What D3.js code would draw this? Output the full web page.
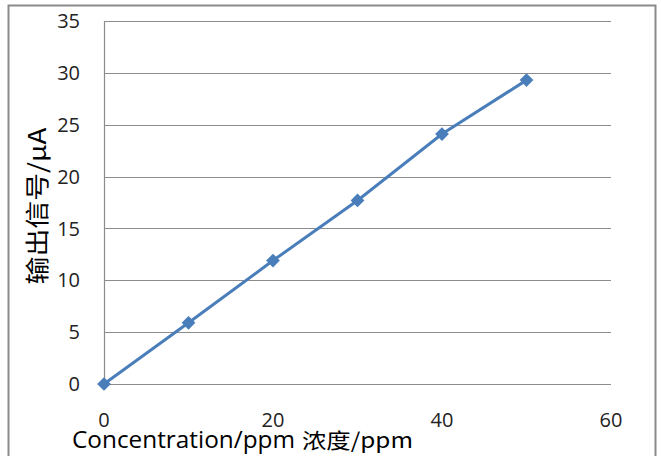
<!DOCTYPE html>
<html>
<head>
<meta charset="utf-8">
<script src="https://cdn.jsdelivr.net/npm/d3@7"></script>
<style>
  body { margin: 0; background: #fff; }
  svg { display: block; }
</style>
</head>
<body>
<div id="chart"></div>
<script>
// Data
const concentration = [0, 10, 20, 30, 40, 50];
const signal = [0, 5.9, 11.9, 17.7, 24.1, 29.3];
const xTicks = [0, 20, 40, 60];
const yTicks = [0, 5, 10, 15, 20, 25, 30, 35];

const width = 661, height = 456;
const margin = { left: 104, right: 50, top: 21, bottom: 72 };

const svg = d3.select("#chart").append("svg")
    .attr("width", width)
    .attr("height", height);

// Outer chart border (runs past the bottom edge)
svg.append("rect")
    .attr("x", 8.5).attr("y", 5.5)
    .attr("width", 647).attr("height", 470)
    .attr("fill", "none")
    .attr("stroke", "#8a8a8a")
    .attr("stroke-width", 2);

const x = d3.scaleLinear().domain([0, 60]).range([margin.left, width - margin.right]);
const y = d3.scaleLinear().domain([0, 35]).range([height - margin.bottom, margin.top]);

// Horizontal gridlines
svg.append("g")
    .selectAll("line")
    .data(yTicks)
    .enter()
    .append("line")
    .attr("x1", x(0)).attr("x2", x(60))
    .attr("y1", d => Math.round(y(d)) + 0.5)
    .attr("y2", d => Math.round(y(d)) + 0.5)
    .attr("stroke", "#8c8c8c")
    .attr("stroke-width", 1.2);

// Left axis line
svg.append("line")
    .attr("x1", x(0) + 0.5).attr("x2", x(0) + 0.5)
    .attr("y1", y(35)).attr("y2", y(0))
    .attr("stroke", "#8c8c8c")
    .attr("stroke-width", 1.2);

const font = "'Open Sans', 'Noto Sans', sans-serif";

// Y tick labels
svg.append("g")
    .selectAll("text")
    .data(yTicks)
    .enter()
    .append("text")
    .attr("x", 80)
    .attr("y", d => y(d))
    .attr("dy", "0.36em")
    .attr("text-anchor", "end")
    .attr("font-family", font)
    .attr("font-size", 20)
    .attr("fill", "#222")
    .text(d => d);

// X tick labels
svg.append("g")
    .selectAll("text")
    .data(xTicks)
    .enter()
    .append("text")
    .attr("x", d => x(d))
    .attr("y", 427)
    .attr("text-anchor", "middle")
    .attr("font-family", font)
    .attr("font-size", 20)
    .attr("fill", "#222")
    .text(d => d);

// Axis titles
const xTitle = svg.append("text")
    .attr("y", 448)
    .attr("font-family", font)
    .attr("fill", "#000");
xTitle.append("tspan")
    .attr("x", 72)
    .attr("font-size", 23)
    .attr("textLength", 223)
    .attr("lengthAdjust", "spacingAndGlyphs")
    .text("Concentration/ppm");
xTitle.append("tspan")
    .attr("x", 302)
    .attr("font-size", 21)
    .attr("font-family", "'Noto Sans CJK SC', sans-serif")
    .attr("textLength", 111)
    .attr("lengthAdjust", "spacingAndGlyphs")
    .text("浓度/ppm");

svg.append("text")
    .attr("transform", "translate(46,206) rotate(-90)")
    .attr("text-anchor", "middle")
    .attr("font-family", "'Noto Sans CJK SC', sans-serif")
    .attr("font-size", 24)
    .attr("fill", "#000")
    .attr("textLength", 157)
    .attr("lengthAdjust", "spacingAndGlyphs")
    .text("输出信号/μA");

// Series line and markers
const points = concentration.map((c, i) => ({ c: c, s: signal[i] }));
const color = "#4a7ebb";

svg.append("path")
    .datum(points)
    .attr("fill", "none")
    .attr("stroke", color)
    .attr("stroke-width", 3)
    .attr("d", d3.line().x(d => x(d.c)).y(d => y(d.s)));

svg.append("g")
    .selectAll("path")
    .data(points)
    .enter()
    .append("path")
    .attr("transform", d => `translate(${x(d.c)},${y(d.s)})`)
    .attr("d", d3.symbol().type(d3.symbolDiamond2).size(120))
    .attr("fill", color);
</script>
</body>
</html>
